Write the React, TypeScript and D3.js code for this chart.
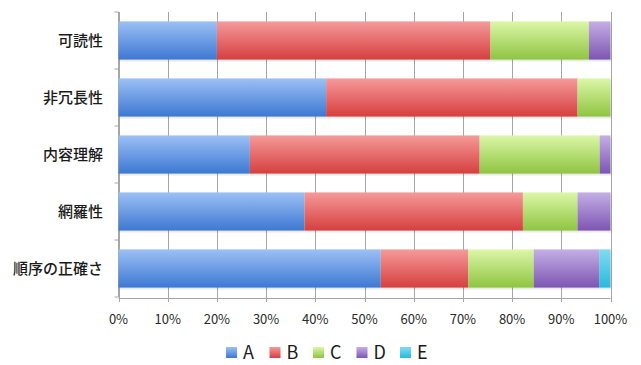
import React from "react";
import * as d3 from "d3";

const categories = ["可読性", "非冗長性", "内容理解", "網羅性", "順序の正確さ"];
const seriesNames = ["A", "B", "C", "D", "E"];
const valuesA = [20.0, 42.2, 26.7, 37.8, 53.3];
const valuesB = [55.6, 51.1, 46.7, 44.4, 17.8];
const valuesC = [20.0, 6.7, 24.4, 11.1, 13.3];
const valuesD = [4.4, 0, 2.2, 6.7, 13.3];
const valuesE = [0, 0, 0, 0, 2.3];
const tickValues = [0, 10, 20, 30, 40, 50, 60, 70, 80, 90, 100];

const colorsTop = ["#9cc0f5", "#f59a9a", "#dcf7a8", "#c4afe6", "#7fdcf2"];
const colorsBottom = ["#3d78d2", "#d63f3f", "#8fc441", "#7d55b2", "#2bb8dc"];

export default function App() {
  const W = 641, H = 365;
  const left = 118.5, right = 610.5, top = 12, bottom = 297;
  const x = d3.scaleLinear().domain([0, 100]).range([left, right]);
  const y = d3.scaleBand<string>().domain(categories).range([top, bottom]).paddingInner(0.33).paddingOuter(0.165);
  const allSeries = [valuesA, valuesB, valuesC, valuesD, valuesE];
  const rows = categories.map((c, i) => {
    const o: any = { cat: c };
    seriesNames.forEach((s, j) => (o[s] = allSeries[j][i]));
    return o;
  });
  const stacked = d3.stack<any>().keys(seriesNames)(rows);
  const bandStep = (bottom - top) / categories.length;
  const font = "'Noto Sans CJK JP', 'Noto Sans', sans-serif";
  const legendX = d3.scaleLinear().domain([0, 4]).range([226, 400]);

  return (
    <svg width={W} height={H} style={{ position: "absolute", left: 0, top: 0, background: "#fff" }}>
      <defs>
        {seriesNames.map((s, j) => (
          <linearGradient key={s} id={`g${j}`} x1="0" y1="0" x2="0" y2="1">
            <stop offset="0%" stopColor={colorsTop[j]} />
            <stop offset="100%" stopColor={colorsBottom[j]} />
          </linearGradient>
        ))}
      </defs>
      {/* gridlines */}
      {tickValues.map((t) => (
        <line key={t} x1={Math.round(x(t)) + 0.5} x2={Math.round(x(t)) + 0.5} y1={top} y2={bottom + 5}
          stroke="#a6a6a6" strokeWidth={1} />
      ))}
      {/* left axis with ticks */}
      <line x1={left} x2={left} y1={top} y2={bottom} stroke="#a6a6a6" />
      {d3.range(categories.length + 1).map((i) => (
        <line key={i} x1={left - 4} x2={left} y1={top + i * bandStep} y2={top + i * bandStep} stroke="#a6a6a6" />
      ))}
      {/* bottom axis */}
      <line x1={left} x2={right} y1={bottom + 1.5} y2={bottom + 1.5} stroke="#a6a6a6" />
      {/* shadows */}
      {categories.map((c) => (
        <rect key={c} x={left + 1} y={(y(c) as number) + 2} width={right - left} height={y.bandwidth()}
          fill="#000" opacity={0.08} />
      ))}
      {/* bars */}
      {stacked.map((layer, j) => (
        <g key={layer.key}>
          {layer.map((d, i) => {
            const w = x(d[1]) - x(d[0]);
            if (w <= 0) return null;
            return (
              <rect key={i} x={x(d[0])} y={y(categories[i])} width={w} height={y.bandwidth()} fill={`url(#g${j})`} />
            );
          })}
        </g>
      ))}
      {/* category labels */}
      {categories.map((c) => (
        <text key={c} x={103} y={(y(c) as number) + y.bandwidth() / 2 + 1.5} textAnchor="end" dominantBaseline="middle"
          fontFamily={font} fontSize={15} fontWeight={500} fill="#1a1a1a">{c}</text>
      ))}
      {/* tick labels */}
      {tickValues.map((t) => (
        <text key={t} x={x(t)} y={320} textAnchor="middle" dominantBaseline="middle"
          fontFamily={font} fontSize={13} fill="#2a2a2a">{`${t}%`}</text>
      ))}
      {/* legend */}
      {seriesNames.map((s, j) => (
        <g key={s} transform={`translate(${legendX(j)},0)`}>
          <rect x={0} y={347} width={11} height={11} fill={`url(#g${j})`} />
          <text x={17} y={354} dominantBaseline="middle" fontFamily={font} fontSize={18} fill="#1a1a1a">{s}</text>
        </g>
      ))}
    </svg>
  );
}
